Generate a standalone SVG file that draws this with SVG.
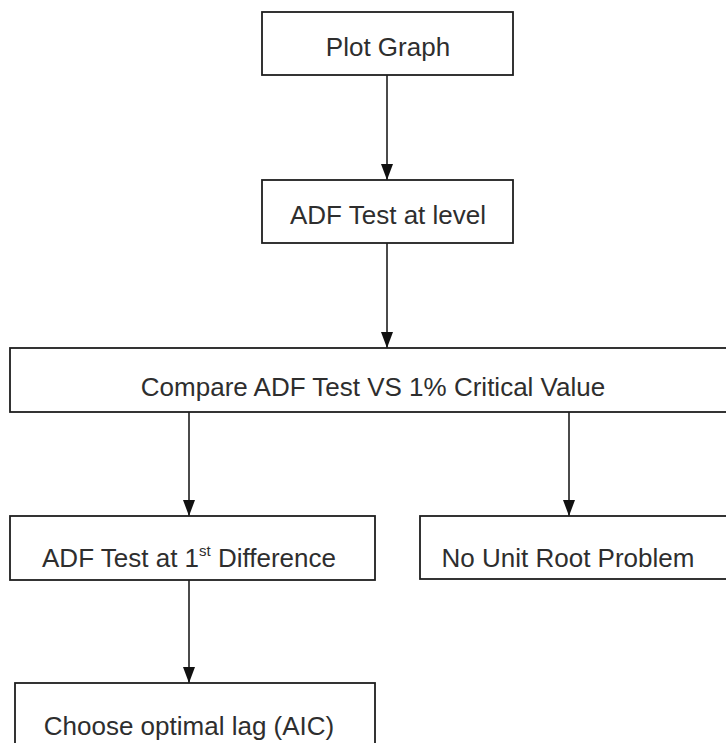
<svg xmlns="http://www.w3.org/2000/svg" width="726" height="743" viewBox="0 0 726 743">
<style>
.box{fill:#fff;stroke:#1e1e1e;stroke-width:1.8}
.t{font-family:"Liberation Sans",Arial,sans-serif;font-size:26px;fill:#2e2e2e;text-anchor:middle}
.c{stroke:#1e1e1e;stroke-width:1.6;fill:none;marker-end:url(#ah)}
</style>
<defs>
<marker id="ah" viewBox="0 0 16 12" refX="16" refY="6" markerWidth="16" markerHeight="12" markerUnits="userSpaceOnUse" orient="auto">
<path d="M0,0 L16,6 L0,12 z" fill="#111"/>
</marker>
</defs>
<rect width="726" height="743" fill="#fff"/>
<g id="connectors">
<line class="c" x1="387" y1="75" x2="387" y2="180"/>
<line class="c" x1="387" y1="243" x2="387" y2="348"/>
<line class="c" x1="189" y1="412" x2="189" y2="516"/>
<line class="c" x1="569" y1="412" x2="569" y2="516"/>
<line class="c" x1="189" y1="580" x2="189" y2="683"/>
</g>
<g id="plot-graph">
<rect class="box" x="262" y="12" width="251" height="63"/>
<text class="t" x="388" y="56">Plot Graph</text>
</g>
<g id="adf-level">
<rect class="box" x="262" y="180" width="251" height="63"/>
<text class="t" x="388" y="224">ADF Test at level</text>
</g>
<g id="compare">
<rect class="box" x="10" y="348" width="730" height="64"/>
<text class="t" x="373" y="396">Compare ADF Test VS 1% Critical Value</text>
</g>
<g id="adf-diff">
<rect class="box" x="10" y="516" width="365" height="64"/>
<text class="t" x="189" y="567">ADF Test at 1<tspan font-size="15" dy="-11">st</tspan><tspan dy="11"> Difference</tspan></text>
</g>
<g id="no-unit-root">
<rect class="box" x="420" y="516" width="320" height="63"/>
<text class="t" x="568" y="567">No Unit Root Problem</text>
</g>
<g id="choose-lag">
<rect class="box" x="15" y="683" width="360" height="80"/>
<text class="t" x="189" y="735">Choose optimal lag (AIC)</text>
</g>
</svg>
